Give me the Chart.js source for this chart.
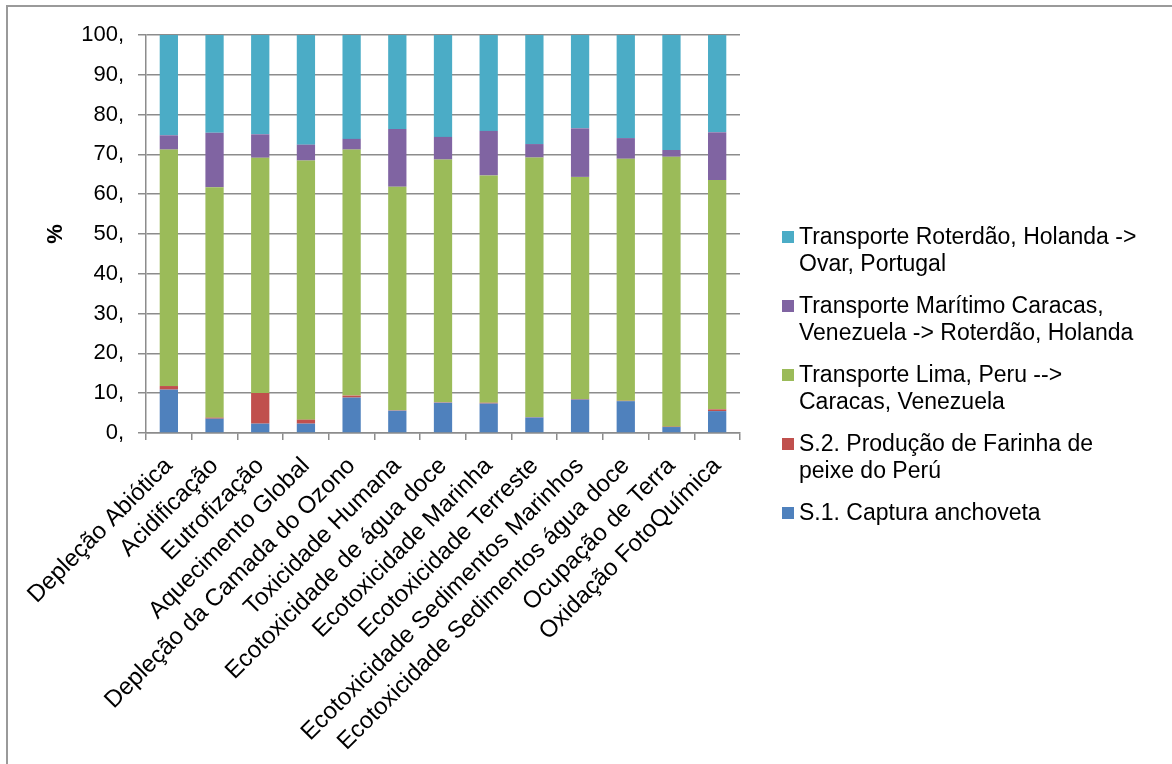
<!DOCTYPE html>
<html>
<head>
<meta charset="utf-8">
<script src="https://cdn.jsdelivr.net/npm/chart.js@4.4.1/dist/chart.umd.min.js"></script>
<style>
  html, body { margin: 0; padding: 0; background: #fff; overflow: hidden; }
  #wrap { position: relative; width: 1172px; height: 764px; }
  #frame { position: absolute; left: 6px; top: 5px; width: 1300px; height: 900px;
           border-left: 2px solid #9a9a9a; border-top: 2px solid #9a9a9a; }
  #legend { position: absolute; left: 782px; top: 223px;
            font-family: "Liberation Sans", Arial, sans-serif; font-size: 23px;
            line-height: 27px; color: #000; white-space: nowrap; }
  .item { position: relative; padding-left: 17px; margin-bottom: 15px; }
  .box { position: absolute; left: 0; top: 8px; width: 12px; height: 12px; }
</style>
</head>
<body>
<div id="wrap">
  <div id="frame"></div>
  <canvas id="chart"></canvas>
  <div id="legend"></div>
</div>
<script>
const categories = [
  'Depleção Abiótica',
  'Acidificação',
  'Eutrofização',
  'Aquecimento Global',
  'Depleção da Camada do Ozono',
  'Toxicidade Humana',
  'Ecotoxicidade de água doce',
  'Ecotoxicidade Marinha',
  'Ecotoxicidade Terreste',
  'Ecotoxicidade Sedimentos Marinhos',
  'Ecotoxicidade Sedimentos água doce',
  'Ocupação de Terra',
  'Oxidação FotoQuímica'
];

// series, bottom of the stack first
const capturaAnchoveta = [10.9, 3.6, 2.35, 2.35, 8.9, 5.6, 7.6, 7.4, 3.9, 8.4, 8.0, 1.5, 5.5];
const farinhaPeixe     = [0.9, 0.25, 7.7, 1.0, 0.5, 0.1, 0.1, 0.2, 0.1, 0.15, 0.1, 0.1, 0.45];
const transpLima       = [59.4, 57.9, 59.1, 65.1, 61.8, 56.2, 61.0, 57.1, 65.2, 55.8, 60.8, 67.8, 57.6];
const transpMaritimo   = [3.6, 13.7, 5.9, 4.0, 2.7, 14.5, 5.7, 11.2, 3.4, 12.2, 5.2, 1.7, 12.0];
const transpRoterdao   = [25.2, 24.55, 24.95, 27.55, 26.1, 23.6, 25.6, 24.1, 27.4, 23.45, 25.9, 28.9, 24.45];

const seriesNames = [
  ['S.1. Captura anchoveta'],
  ['S.2. Produção de Farinha de', 'peixe do Perú'],
  ['Transporte Lima, Peru -->', 'Caracas, Venezuela'],
  ['Transporte Marítimo Caracas,', 'Venezuela -> Roterdão, Holanda'],
  ['Transporte Roterdão, Holanda ->', 'Ovar, Portugal']
];
const seriesValues = [capturaAnchoveta, farinhaPeixe, transpLima, transpMaritimo, transpRoterdao];
const colors = ['#4F81BD', '#C0504D', '#9BBB59', '#8064A2', '#4BACC6'];

const yTicks = [0, 10, 20, 30, 40, 50, 60, 70, 80, 90, 100];

const FONT = 'Liberation Sans, Arial, sans-serif';
const GRID = '#8c8c8c';

const datasets = seriesValues.map(function (vals, i) {
  return {
    label: seriesNames[i].join(' '),
    data: vals,
    backgroundColor: colors[i],
    borderWidth: 0,
    barPercentage: 0.4,
    categoryPercentage: 1.0
  };
});

const canvas = document.getElementById('chart');
canvas.width = 1172;
canvas.height = 764;

new Chart(canvas, {
  type: 'bar',
  data: { labels: categories, datasets: datasets },
  options: {
    responsive: false,
    animation: false,
    layout: { padding: { left: 8, top: 35, right: 432, bottom: 0 } },
    plugins: {
      legend: { display: false },
      tooltip: { enabled: false }
    },
    scales: {
      x: {
        stacked: true,
        grid: { drawOnChartArea: false, color: GRID, lineWidth: 1.5, tickLength: 7, offset: true },
        border: { color: GRID, width: 1.5 },
        ticks: {
          autoSkip: false, minRotation: 45, maxRotation: 45,
          color: '#000', padding: 12,
          font: { family: FONT, size: 24 }
        },
        afterFit: function (s) { s.height = 331; }
      },
      y: {
        stacked: true,
        min: 0,
        max: 100,
        afterBuildTicks: function (s) { s.ticks = yTicks.map(function (v) { return { value: v }; }); },
        grid: { color: GRID, lineWidth: 1.5, tickLength: 8 },
        border: { color: GRID, width: 1.5 },
        ticks: {
          color: '#000', padding: 14,
          font: { family: FONT, size: 22 },
          callback: function (v) { return v + ','; }
        },
        title: {
          display: true, text: '%', color: '#000',
          font: { family: FONT, size: 22, weight: 'bold' },
          padding: { top: 35, bottom: 0 }
        },
        afterFit: function (s) { s.width = 138; }
      }
    }
  }
});

// legend, top series first like the original
const legend = document.getElementById('legend');
for (let i = seriesNames.length - 1; i >= 0; i--) {
  const item = document.createElement('div');
  item.className = 'item';
  const box = document.createElement('span');
  box.className = 'box';
  box.style.background = colors[i];
  item.appendChild(box);
  seriesNames[i].forEach(function (line, k) {
    if (k > 0) item.appendChild(document.createElement('br'));
    item.appendChild(document.createTextNode(line));
  });
  legend.appendChild(item);
}
</script>
</body>
</html>
